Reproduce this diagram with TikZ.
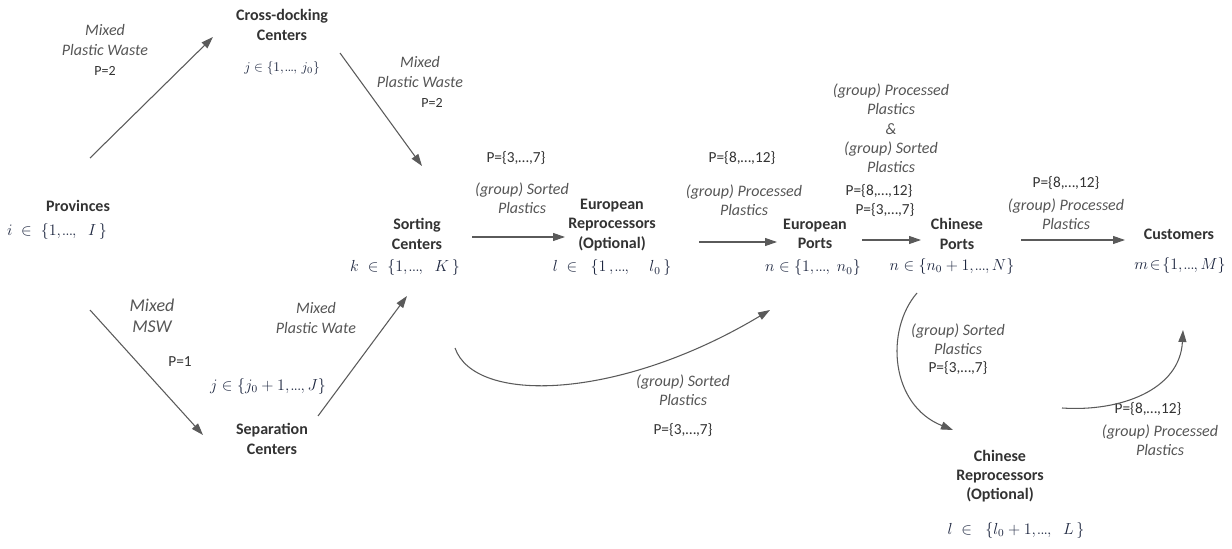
\documentclass[tikz,border=0pt]{standalone}
\usepackage{fontspec}
\setmainfont{Carlito}
\usetikzlibrary{arrows.meta}
\definecolor{ink}{HTML}{333333}
\definecolor{lbl}{HTML}{555555}
\definecolor{wire}{HTML}{5A5A5A}
\definecolor{setc}{HTML}{1E2740}
% compact run of dots used inside the index sets
\newcommand{\rng}{,\mkern-2mu.\mkern-1mu.\mkern-1mu.\mkern-1mu,}
\begin{document}
\begin{tikzpicture}[x=0.75pt,y=-0.75pt,
  site/.style={font=\fontsize{12}{14.5}\selectfont\bfseries, text=ink, align=center, inner sep=0pt},
  flow/.style={font=\fontsize{12}{14.5}\selectfont\itshape, text=lbl, align=center, inner sep=0pt},
  bigflow/.style={font=\fontsize{13.5}{15.5}\selectfont\itshape, text=lbl, align=center, inner sep=0pt},
  prod/.style={font=\fontsize{11.5}{14.5}\selectfont, text=ink, align=center, inner sep=0pt},
  smallprod/.style={font=\fontsize{10.5}{13}\selectfont, text=ink, inner sep=0pt},
  idx/.style={font=\fontsize{13}{15}\selectfont, text=setc, inner sep=0pt},
  smallidx/.style={font=\fontsize{11.5}{13}\selectfont, text=setc, inner sep=0pt},
  conn/.style={draw=wire, line width=0.8pt, -{Triangle[length=9pt,width=6pt]}}]
\useasboundingbox (0,0) rectangle (1232,549);

% facilities
\node[site] (prov)  at (78,206)   {Provinces};
\node[site] (cross) at (282,25)   {Cross-docking\\Centers};
\node[site] (sort)  at (417,234)  {Sorting\\Centers};
\node[site] (sep)   at (272,439)  {Separation\\Centers};
\node[site] (eurep) at (612,225)  {European\\Reprocessors\\(Optional)};
\node[site] (eport) at (815,234)  {European\\Ports};
\node[site] (cport) at (957,234)  {Chinese\\Ports};
\node[site] (cust)  at (1179,234) {Customers};
\node[site] (crep)  at (1000,476) {Chinese\\Reprocessors\\(Optional)};

% index sets
\node[idx]      (provset)  at (57,232)   {$i\;\in\;\{1\rng\;\;I\,\}$};
\node[smallidx] (crossset) at (282,68)   {\fontsize{10}{12}\selectfont$j\in\{1\rng\, j_0\}$};
\node[idx]      (sortset)  at (405,268)  {$k\;\in\;\{1\rng\;\;K\,\}$};
\node[smallidx] (sepset)   at (268,386)  {$j\in\{j_0+1\rng J\}$};
\node[smallidx] (eurepset) at (612,268)  {$l\;\in\;\;\{1\,\rng\;\;\;\;l_0\,\}$};
\node[smallidx] (eportset) at (813,268)  {$n\in\{1\rng\; n_0\}$};
\node[smallidx] (cportset) at (952,266)  {$n\in\{n_0+1\rng N\}$};
\node[smallidx] (custset)  at (1180,265) {$m\!\in\!\{1\rng M\}$};
\node[smallidx] (crepset)  at (1016,530) {$l\;\in\;\;\{l_0+1\rng\;\;L\,\}$};

% flow labels
\node[flow] (f1)  at (105,40)  {Mixed\\Plastic Waste};
\node[smallprod] (p1) at (105,71) {P=2};
\node[flow] (f2)  at (420,72)  {Mixed\\Plastic Waste};
\node[smallprod] (p2) at (432,103) {P=2};
\node[bigflow] (f3) at (152,316) {Mixed\\MSW};
\node[prod] (p3)  at (180,362) {P=1};
\node[flow] (f4)  at (316,318) {Mixed\\Plastic Wate};
\node[prod] (p5)  at (516,158) {P=\{3,…,7\}};
\node[flow] (f5)  at (522,198) {(group) Sorted\\Plastics};
\node[prod] (p6)  at (742,158) {P=\{8,…,12\}};
\node[flow] (f6)  at (744,200) {(group) Processed\\Plastics};
\node[flow] (f7)  at (891,128.5) {(group) Processed\\Plastics\\\&\\(group) Sorted\\Plastics};
\node[prod] (p7a) at (879,191) {P=\{8,…,12\}};
\node[prod] (p7b) at (885,210) {P=\{3,…,7\}};
\node[prod] (p8)  at (1066,183) {P=\{8,…,12\}};
\node[flow] (f8)  at (1066,214) {(group) Processed\\Plastics};
\node[flow] (f9)  at (683,390) {(group) Sorted\\Plastics};
\node[prod] (p9)  at (683,430) {P=\{3,…,7\}};
\node[flow] (f10) at (958,339.5) {(group) Sorted\\Plastics};
\node[prod] (p10) at (958,368) {P=\{3,…,7\}};
\node[prod] (p11) at (1148,409) {P=\{8,…,12\}};
\node[flow] (f11) at (1160,440) {(group) Processed\\Plastics};

% straight flows
\draw[conn] ([shift={(12,-48)}]prov.center) -- ([shift={(-69,12)}]cross.center);
\draw[conn] ([shift={(58,28)}]cross.center) -- ([shift={(5,-68)}]sort.center);
\draw[conn] ([shift={(12,104)}]prov.center) -- ([shift={(-69,-4)}]sep.center);
\draw[conn] ([shift={(46,-23)}]sep.center) -- ([shift={(-10,62)}]sort.center);
\draw[conn] ([shift={(55,3)}]sort.center) -- ([shift={(-47,12)}]eurep.center);
\draw[conn] ([shift={(87,17)}]eurep.center) -- ([shift={(-38,8)}]eport.center);
\draw[conn] ([shift={(47,6)}]eport.center) -- ([shift={(-36,6)}]cport.center);
\draw[conn] ([shift={(64,6)}]cport.center) -- ([shift={(-54,6)}]cust.center);

% curved flows
\draw[conn] ([shift={(38,114)}]sort.center) .. controls (475,405) and (620,400) .. ([shift={(-45,76)}]eport.center);
\draw[conn] ([shift={(-40,59)}]cport.center) .. controls (885,330) and (890,405) .. ([shift={(-47,-46)}]crep.center);
\draw[conn] ([shift={(62,-68)}]crep.center) .. controls (1120,412) and (1180,390) .. ([shift={(4,96)}]cust.center);
\end{tikzpicture}
\end{document}
